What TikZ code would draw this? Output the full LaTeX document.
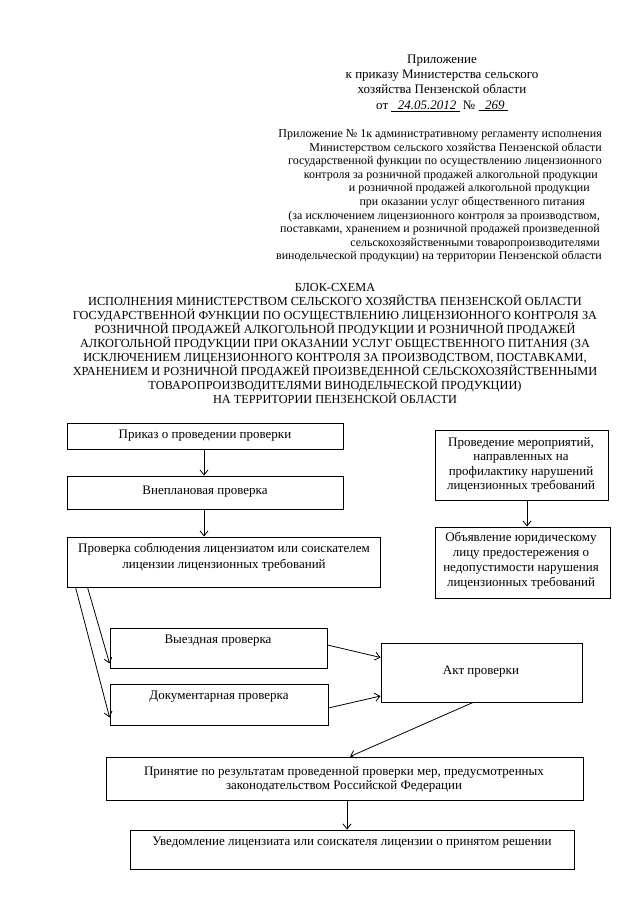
\documentclass[tikz,border=0pt]{standalone}
\usepackage{fontspec}
\setmainfont{Liberation Serif}
\usetikzlibrary{arrows.meta,fit,calc}
\begin{document}
\begin{tikzpicture}[x=1pt,y=-1pt,
  box/.style={draw,line width=0.9pt,inner sep=0pt},
  txt/.style={inner sep=0pt,align=center,font=\fontsize{13}{15.3}\selectfont},
  apx/.style={inner sep=0pt,anchor=east,text height=0.7em,text depth=0.2em,font=\fontsize{12}{13.6}\selectfont},
  ttl/.style={inner sep=0pt,align=center,font=\fontsize{12.3}{14}\selectfont},
  arr/.style={line width=0.8pt,-{Straight Barb[length=5pt,width=8pt]}}]
\useasboundingbox (0,0) rectangle (640,905);
% header
\node[txt] (hdr) at (442,83) {Приложение\\к приказу Министерства сельского\\хозяйства Пензенской области\\от \underline{\textit{\ \ 24.05.2012\ }} № \underline{\textit{\ \ 269\ }}};
% appendix
\node[apx] (a1) at (602,135) {Приложение № 1к административному регламенту исполнения};
\node[apx] (a2) at (602,148.6) {Министерством сельского хозяйства Пензенской области};
\node[apx] (a3) at (602,162.2) {государственной функции по осуществлению лицензионного};
\node[apx] (a4) at (598,175.8) {контроля за розничной продажей алкогольной продукции};
\node[apx] (a5) at (590,189.4) {и розничной продажей алкогольной продукции};
\node[apx] (a6) at (585,203) {при оказании услуг общественного питания};
\node[apx] (a7) at (600,216.6) {(за исключением лицензионного контроля за производством,};
\node[apx] (a8) at (600,230.2) {поставками, хранением и розничной продажей произведенной};
\node[apx] (a9) at (600,243.8) {сельскохозяйственными товаропроизводителями};
\node[apx] (a10) at (602,257.4) {винодельческой продукции) на территории Пензенской области};
% title
\node[ttl] (title) at (335,343.5) {БЛОК-СХЕМА\\ИСПОЛНЕНИЯ МИНИСТЕРСТВОМ СЕЛЬСКОГО ХОЗЯЙСТВА ПЕНЗЕНСКОЙ ОБЛАСТИ\\ГОСУДАРСТВЕННОЙ ФУНКЦИИ ПО ОСУЩЕСТВЛЕНИЮ ЛИЦЕНЗИОННОГО КОНТРОЛЯ ЗА\\РОЗНИЧНОЙ ПРОДАЖЕЙ АЛКОГОЛЬНОЙ ПРОДУКЦИИ И РОЗНИЧНОЙ ПРОДАЖЕЙ\\АЛКОГОЛЬНОЙ ПРОДУКЦИИ ПРИ ОКАЗАНИИ УСЛУГ ОБЩЕСТВЕННОГО ПИТАНИЯ (ЗА\\ИСКЛЮЧЕНИЕМ ЛИЦЕНЗИОННОГО КОНТРОЛЯ ЗА ПРОИЗВОДСТВОМ, ПОСТАВКАМИ,\\ХРАНЕНИЕМ И РОЗНИЧНОЙ ПРОДАЖЕЙ ПРОИЗВЕДЕННОЙ СЕЛЬСКОХОЗЯЙСТВЕННЫМИ\\ТОВАРОПРОИЗВОДИТЕЛЯМИ ВИНОДЕЛЬЧЕСКОЙ ПРОДУКЦИИ)\\НА ТЕРРИТОРИИ ПЕНЗЕНСКОЙ ОБЛАСТИ};
% boxes
\node[box,fit={(67,423)(343,449)}] (b1) {};
\node[txt] (t1) at (205,436) {Приказ о проведении проверки};
\node[box,fit={(67,476)(343,509)}] (b2) {};
\node[txt] (t2) at (205,492) {Внеплановая проверка};
\node[box,fit={(67,537)(380,587)}] (b3) {};
\node[txt,font=\fontsize{13}{16.5}\selectfont] (t3) at (224,557) {Проверка соблюдения лицензиатом или соискателем\\лицензии лицензионных требований};
\node[box,fit={(110,628)(327,668)}] (vy) {};
\node[txt] (tvy) at (218,641) {Выездная проверка};
\node[box,fit={(110,684)(328,725)}] (doc) {};
\node[txt] (tdoc) at (219,697) {Документарная проверка};
\node[box,fit={(381,643)(582,702)}] (akt) {};
\node[txt] (takt) at (481,672) {Акт проверки};
\node[box,fit={(435,430)(608,500)}] (bA) {};
\node[txt,font=\fontsize{13}{14.5}\selectfont] (tA) at (521,465) {Проведение мероприятий,\\направленных на\\профилактику нарушений\\лицензионных требований};
\node[box,fit={(435,527)(610,598)}] (bB) {};
\node[txt,font=\fontsize{13}{15}\selectfont] (tB) at (521,561) {Объявление юридическому\\лицу предостережения о\\недопустимости нарушения\\лицензионных требований};
\node[box,fit={(106,757)(583,800)}] (prin) {};
\node[txt,font=\fontsize{13}{14}\selectfont] (tprin) at (344,779) {Принятие по результатам проведенной проверки мер, предусмотренных\\законодательством Российской Федерации};
\node[box,fit={(130,830)(574,869)}] (uv) {};
\node[txt] (tuv) at (352,843) {Уведомление лицензиата или соискателя лицензии о принятом решении};
% connector end points
\coordinate (s1) at ($(b1.south)+(-1,0)$);
\coordinate (s2) at ($(b2.south)+(-1,0)$);
\coordinate (sA) at ($(bA.south)+(5.5,0)$);
\coordinate (sP) at ($(prin.south)+(2.5,0)$);
% connectors
\draw[arr] (s1) -- (s1 |- b2.north);
\draw[arr] (s2) -- (s2 |- b3.north);
\draw[arr] (sA) -- (sA |- bB.north);
\draw[arr] ($(b3.south west)+(9,0)$) -- ($(doc.south west)+(0,-8)$);
\draw[arr] ($(b3.south west)+(21,0)$) -- ($(vy.south west)+(0,-5)$);
\draw[arr] ($(vy.east)+(0,-3)$) -- ($(akt.west)+(0,-15)$);
\draw[arr] ($(doc.east)+(0,3.5)$) -- ($(akt.west)+(0,23.5)$);
\draw[arr] ($(akt.south)+(-8.5,0)$) -- ($(prin.north)+(5.5,0)$);
\draw[arr] (sP) -- (sP |- uv.north);
\end{tikzpicture}
\end{document}
